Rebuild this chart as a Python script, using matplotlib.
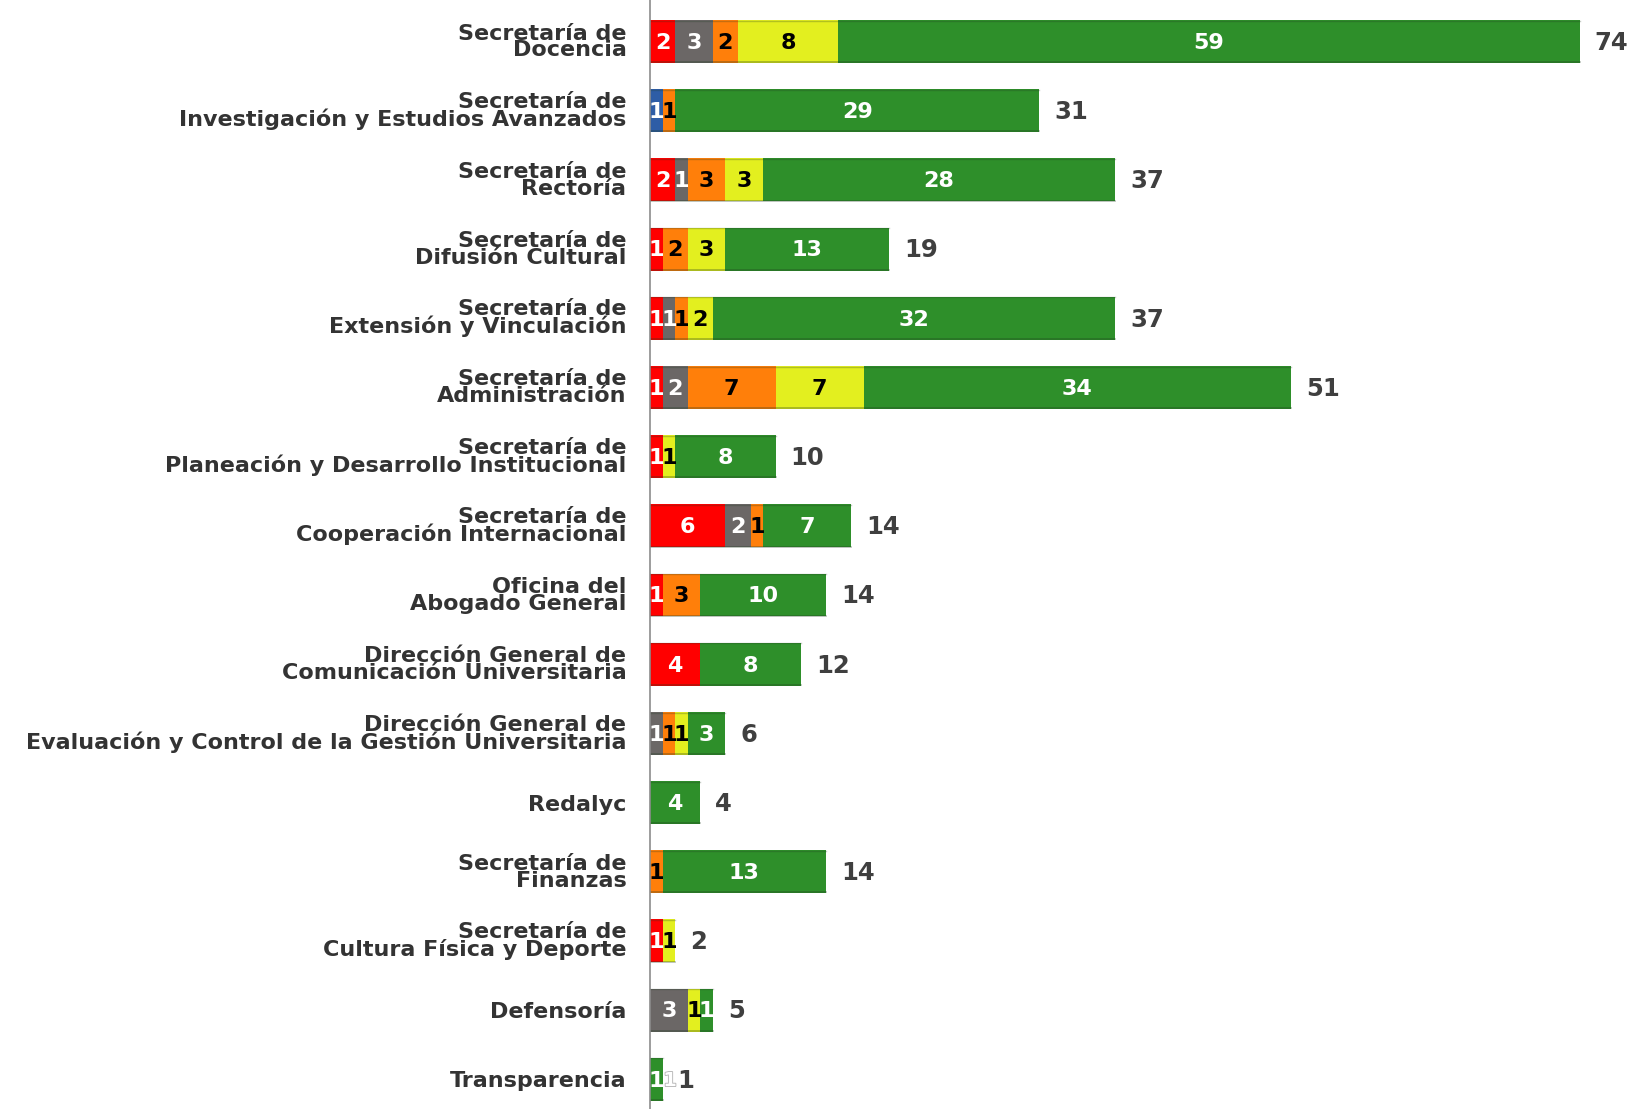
import matplotlib
matplotlib.use("Agg")
import matplotlib.pyplot as plt
import matplotlib.patheffects as pe

categories = [
    "Secretaría de\nDocencia",
    "Secretaría de\nInvestigación y Estudios Avanzados",
    "Secretaría de\nRectoría",
    "Secretaría de\nDifusión Cultural",
    "Secretaría de\nExtensión y Vinculación",
    "Secretaría de\nAdministración",
    "Secretaría de\nPlaneación y Desarrollo Institucional",
    "Secretaría de\nCooperación Internacional",
    "Oficina del\nAbogado General",
    "Dirección General de\nComunicación Universitaria",
    "Dirección General de\nEvaluación y Control de la Gestión Universitaria",
    "Redalyc",
    "Secretaría de\nFinanzas",
    "Secretaría de\nCultura Física y Deporte",
    "Defensoría",
    "Transparencia",
]

blue   = [0, 1, 0, 0, 0, 0, 0, 0, 0, 0, 0, 0, 0, 0, 0, 0]
red    = [2, 0, 2, 1, 1, 1, 1, 6, 1, 4, 0, 0, 0, 1, 0, 0]
gray   = [3, 0, 1, 0, 1, 2, 0, 2, 0, 0, 1, 0, 0, 0, 3, 0]
orange = [2, 1, 3, 2, 1, 7, 0, 1, 3, 0, 1, 0, 1, 0, 0, 0]
yellow = [8, 0, 3, 3, 2, 7, 1, 0, 0, 0, 1, 0, 0, 1, 1, 0]
green  = [59, 29, 28, 13, 32, 34, 8, 7, 10, 8, 3, 4, 13, 0, 1, 1]
totals = [74, 31, 37, 19, 37, 51, 10, 14, 14, 12, 6, 4, 14, 2, 5, 1]

series = [
    (blue,   "#2E5DA6", "white"),
    (red,    "#FF0000", "white"),
    (gray,   "#6B6766", "white"),
    (orange, "#FF7F0A", "black"),
    (yellow, "#E3EF1F", "black"),
    (green,  "#2E8F2A", "white"),
]

W, H = 1635, 1109
fig = plt.figure(figsize=(W / 100, H / 100), dpi=100)
ax = fig.add_axes([650 / W, 0, 1 - 650 / W, 1])

font = "DejaVu Sans"
y = list(range(len(categories)))
left = [0] * len(categories)
bar_h = 0.62
for vals, col, tcol in series:
    ax.barh(y, vals, left=left, height=bar_h, color=col, edgecolor="none")
    for i, v in enumerate(vals):
        if v > 0:
            ax.text(left[i] + v / 2, i + 0.02, str(v), ha="center", va="center",
                    color=tcol, fontsize=16, fontweight="bold", family=font)
    left = [l + v for l, v in zip(left, vals)]

# dark shade lines along bar edges
for i, l in enumerate(left):
    if l > 0:
        ax.plot([0, l], [i + bar_h / 2 - 0.01, i + bar_h / 2 - 0.01], color="#1f3a1f", alpha=0.35, lw=1.2)
        ax.plot([0, l], [i - bar_h / 2 + 0.01, i - bar_h / 2 + 0.01], color="#1f3a1f", alpha=0.25, lw=1.0)

for i, (l, t) in enumerate(zip(left, totals)):
    ax.text(l + 1.2, i + 0.02, str(t), ha="left", va="center", color="#3F3F3F",
            fontsize=17.5, fontweight="bold", family=font)

# faint ghost label on Transparencia
ax.text(1.6, 15 + 0.02, "1", ha="center", va="center", color="white", fontsize=14,
        fontweight="bold", family=font,
        path_effects=[pe.withStroke(linewidth=1.2, foreground="#B0B0B0")])

ax.set_xlim(0, 78.4)
ax.set_ylim(15.43, -0.60)
ax.set_yticks(y)
ax.set_yticklabels(categories, fontsize=16, fontweight="bold", family=font,
                   color="#333333", linespacing=0.8)
ax.tick_params(axis="y", length=0, pad=17)
ax.set_xticks([])
for s in ["top", "right", "bottom"]:
    ax.spines[s].set_visible(False)
ax.spines["left"].set_color("#8C8C8C")
ax.spines["left"].set_linewidth(1.2)

fig.savefig("out.png", dpi=100)
